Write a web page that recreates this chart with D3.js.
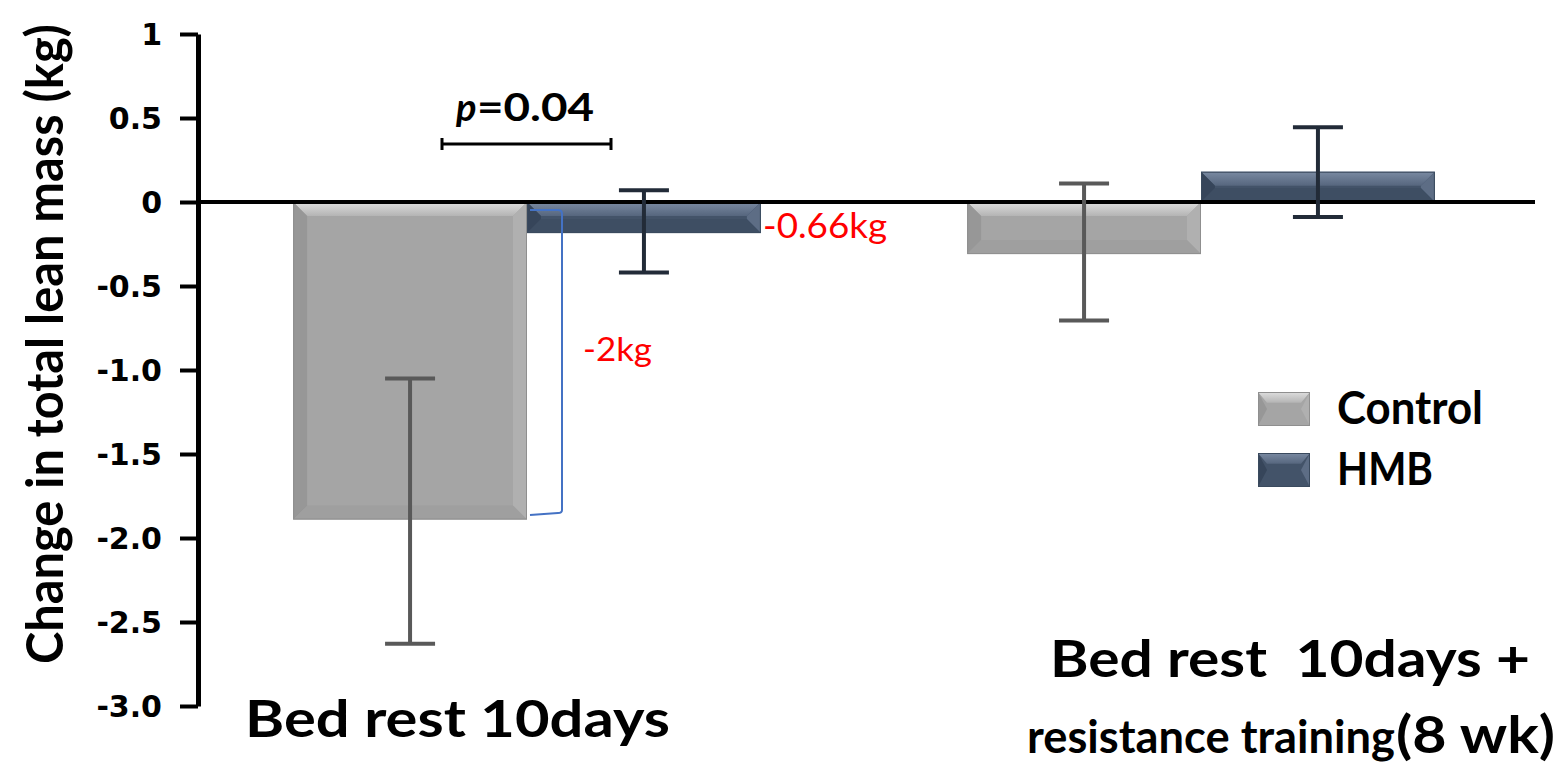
<!DOCTYPE html>
<html>
<head>
<meta charset="utf-8">
<script src="https://cdn.jsdelivr.net/npm/d3@7"></script>
<style>
  body { margin: 0; background: #fff; }
  svg { display: block; }
</style>
</head>
<body>
<svg id="chart"></svg>
<script>
var w = 1560, h = 766;

// data
var groups = ["g1", "g2"];
var series = ["Control", "HMB"];
var means = [[-1.89, -0.185], [-0.31, 0.18]];
var errHigh = [[-1.05, 0.07], [0.11, 0.445]];
var errLow = [[-2.63, -0.42], [-0.705, -0.09]];
var tickValues = [1, 0.5, 0, -0.5, -1, -1.5, -2, -2.5, -3];
var tickLabels = ["1", "0.5", "0", "-0.5", "-1.0", "-1.5", "-2.0", "-2.5", "-3.0"];

var colors = {
  Control: { main: "#a5a5a5", top: ["#dedede", "#b4b4b4"], left: "#979797", right: "#b0b0b0", bottom: "#999", err: "#595959" },
  HMB: { main: "#435369", top: ["#7a8aa2", "#56667e"], left: "#36455a", right: "#5d6d85", bottom: "#3a4a5e", err: "#222b38" }
};

var svg = d3.select("#chart").attr("width", w).attr("height", h);
var defs = svg.append("defs");
series.forEach(function(s) {
  var g = defs.append("linearGradient").attr("id", "top" + s)
    .attr("x1", 0).attr("y1", 0).attr("x2", 0).attr("y2", 1);
  g.append("stop").attr("offset", "0%").attr("stop-color", colors[s].top[0]);
  g.append("stop").attr("offset", "100%").attr("stop-color", colors[s].top[1]);
});

// stretch a text to the width it has in the picture
function fit(sel, len) {
  sel.attr("textLength", len).attr("lengthAdjust", "spacingAndGlyphs");
}

var y = d3.scaleLinear().domain([-3, 1]).range([706, 34]);
var x0 = d3.scaleBand().domain(groups).range([190, 1538]).paddingInner(0.306).paddingOuter(0.153);
var x1 = d3.scaleBand().domain(series).range([0, x0.bandwidth()]);

var data = [];
groups.forEach(function(g, i) {
  series.forEach(function(s, j) {
    data.push({ group: g, s: s, v: means[i][j], hi: errHigh[i][j], lo: errLow[i][j] });
  });
});

// bars with bevel
var bars = svg.append("g").selectAll("g").data(data).enter().append("g");
bars.each(function(d) {
  var g = d3.select(this);
  var xa = x0(d.group) + x1(d.s), xb = xa + x1.bandwidth();
  var ya = Math.min(y(0), y(d.v)), yb = Math.max(y(0), y(d.v));
  var b = Math.min(14, (yb - ya) / 2);
  var c = colors[d.s];
  g.append("rect").attr("x", xa).attr("y", ya).attr("width", xb - xa).attr("height", yb - ya).attr("fill", c.main);
  g.append("polygon").attr("fill", "url(#top" + d.s + ")")
    .attr("points", [[xa, ya], [xb, ya], [xb - b, ya + b], [xa + b, ya + b]].join(" "));
  g.append("polygon").attr("fill", c.left)
    .attr("points", [[xa, ya], [xa + b, ya + b], [xa + b, yb - b], [xa, yb]].join(" "));
  g.append("polygon").attr("fill", c.right)
    .attr("points", [[xb, ya], [xb - b, ya + b], [xb - b, yb - b], [xb, yb]].join(" "));
  g.append("polygon").attr("fill", c.bottom).attr("opacity", 0.5)
    .attr("points", [[xa, yb], [xa + b, yb - b], [xb - b, yb - b], [xb, yb]].join(" "));
  g.append("rect").attr("x", xa + 0.5).attr("y", ya + 0.5).attr("width", xb - xa - 1).attr("height", yb - ya - 1)
    .attr("fill", "none").attr("stroke", d.s == "Control" ? "#8f8f8f" : "#3a4a5e").attr("stroke-width", 1);
});

// zero line
svg.append("line").attr("x1", 200).attr("x2", 1535).attr("y1", y(0)).attr("y2", y(0))
  .attr("stroke", "#000").attr("stroke-width", 4);

// error bars
var errs = svg.append("g").selectAll("g").data(data).enter().append("g")
  .attr("stroke", function(d) { return colors[d.s].err; }).attr("stroke-width", 4);
errs.each(function(d) {
  var g = d3.select(this);
  var cx = x0(d.group) + x1(d.s) + x1.bandwidth() / 2;
  g.append("line").attr("x1", cx).attr("x2", cx).attr("y1", y(d.hi)).attr("y2", y(d.lo));
  g.append("line").attr("x1", cx - 25).attr("x2", cx + 25).attr("y1", y(d.hi)).attr("y2", y(d.hi));
  g.append("line").attr("x1", cx - 25).attr("x2", cx + 25).attr("y1", y(d.lo)).attr("y2", y(d.lo));
});

// y axis
var axis = svg.append("g").attr("transform", "translate(198,0)")
  .call(d3.axisLeft(y).tickValues(tickValues).tickSize(18).tickSizeOuter(0)
    .tickFormat(function(d, i) { return tickLabels[i]; }));
axis.select(".domain").attr("stroke", "#000").attr("stroke-width", 5);
axis.selectAll(".tick line").attr("stroke", "#000").attr("stroke-width", 4);
axis.selectAll(".tick text").attr("x", -36).attr("dy", "0.36em")
  .style("font-family", "DejaVu Sans").style("font-weight", "bold").style("font-size", "30px").attr("fill", "#000");

var title = svg.append("text").attr("transform", "translate(63,344) rotate(-90)")
  .attr("text-anchor", "middle")
  .style("font-family", "Lato").style("font-weight", "bold").style("font-size", "51px")
  .text("Change in total lean mass (kg)");
fit(title, 640);

// category labels
var lab = svg.append("g").style("font-family", "Lato").style("font-weight", "bold").attr("fill", "#000");
fit(lab.append("text").attr("x", 245).attr("y", 737).style("font-size", "52px").text("Bed rest 10days"), 425);
fit(lab.append("text").attr("x", 1050).attr("y", 677).style("font-size", "52px").style("white-space", "pre")
  .text("Bed rest  10days +"), 480);
fit(lab.append("text").attr("x", 1027).attr("y", 753).style("font-size", "45px").text("resistance training"), 368);
fit(lab.append("text").attr("x", 1396).attr("y", 753).style("font-size", "52px").text("(8 wk)"), 159);

// p value bracket
svg.append("path").attr("d", "M442,138V150M442,144H611M611,138V150")
  .attr("stroke", "#000").attr("stroke-width", 3).attr("fill", "none");
var pg = svg.append("g").style("font-family", "Lato").style("font-weight", "bold").style("font-size", "38px");
pg.append("text").attr("x", 456).attr("y", 121).style("font-style", "italic").text("p");
fit(pg.append("text").attr("x", 477).attr("y", 121).text("=0.04"), 117);

// difference annotations
svg.append("path").attr("d", "M530,210H558Q562,210 562,214V510Q562,513 558,513L530,515")
  .attr("stroke", "#4472c4").attr("stroke-width", 2).attr("fill", "none");
fit(svg.append("text").attr("x", 763).attr("y", 238).attr("fill", "#ff0000")
  .style("font-family", "Lato").style("font-size", "35px").text("-0.66kg"), 124);
fit(svg.append("text").attr("x", 583).attr("y", 361).attr("fill", "#ff0000")
  .style("font-family", "Lato").style("font-size", "33px").text("-2kg"), 69);

// legend
var legWidths = [146, 96];
var leg = svg.append("g").selectAll("g").data(series).enter().append("g")
  .attr("transform", function(d, i) { return "translate(1258," + (392 + i * 61) + ")"; });
leg.each(function(s, i) {
  var g = d3.select(this), c = colors[s], lw = 52, lh = 34, b = 9;
  g.append("rect").attr("width", lw).attr("height", lh).attr("fill", c.main);
  g.append("polygon").attr("fill", "url(#top" + s + ")").attr("points", [[0, 0], [lw, 0], [lw - b, b * 1.2], [b, b * 1.2]].join(" "));
  g.append("polygon").attr("fill", c.left).attr("points", [[0, 0], [b, lh / 2], [0, lh]].join(" "));
  g.append("polygon").attr("fill", c.right).attr("points", [[lw, 0], [lw - b, lh / 2], [lw, lh]].join(" "));
  g.append("rect").attr("x", 0.5).attr("y", 0.5).attr("width", lw - 1).attr("height", lh - 1)
    .attr("fill", "none").attr("stroke", s == "Control" ? "#8f8f8f" : "#3a4a5e");
  fit(g.append("text").attr("x", 79).attr("y", 32).style("font-family", "Lato").style("font-weight", "bold")
    .style("font-size", "45px").text(s), legWidths[i]);
});
</script>
</body>
</html>
